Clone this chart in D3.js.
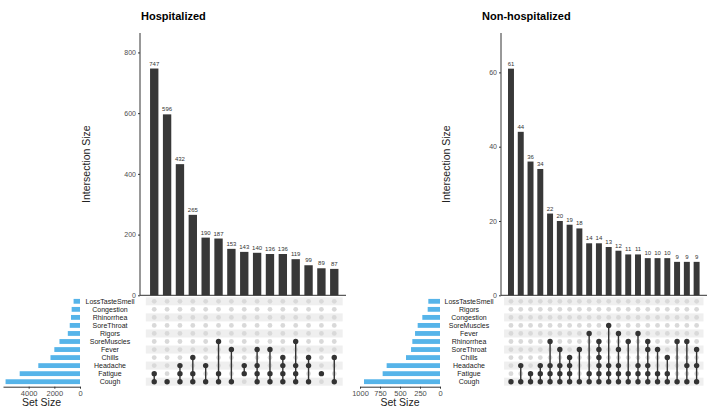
<!DOCTYPE html>
<html>
<head>
<meta charset="utf-8">
<script src="https://cdn.jsdelivr.net/npm/d3@7"></script>
<style>
  body { margin: 0; background: #fff; }
  svg { display: block; font-family: Arial, "Liberation Sans", sans-serif; }
</style>
</head>
<body>
<svg id="chart" width="709" height="408"></svg>
<script>
// ---- Hospitalized ----
const hospSets = ["LossTasteSmell", "Congestion", "Rhinorrhea", "SoreThroat", "Rigors",
  "SoreMuscles", "Fever", "Chills", "Headache", "Fatigue", "Cough"];
const hospSetSizes = [500, 650, 700, 800, 950, 1600, 2000, 2300, 3250, 4700, 5800];
const hospCounts = [747, 596, 432, 265, 190, 187, 153, 143, 140, 136, 136, 119, 99, 89, 87];
const hospMembers = [
  ["Fatigue", "Cough"],
  ["Cough"],
  ["Headache", "Fatigue", "Cough"],
  ["Chills", "Fatigue", "Cough"],
  ["Headache", "Cough"],
  ["SoreMuscles", "Fatigue", "Cough"],
  ["Fever", "Cough"],
  ["Headache", "Fatigue"],
  ["Fever", "Headache", "Fatigue", "Cough"],
  ["Fever", "Fatigue", "Cough"],
  ["Chills", "Headache", "Fatigue", "Cough"],
  ["SoreMuscles", "Headache", "Fatigue", "Cough"],
  ["Chills", "Headache", "Cough"],
  ["Fatigue"],
  ["Chills", "Cough"]
];
const hospYTicks = [0, 200, 400, 600, 800];
const hospSizeTicks = [0, 2000, 4000];

// ---- Non-hospitalized ----
const nonSets = ["LossTasteSmell", "Rigors", "Congestion", "SoreMuscles", "Fever",
  "Rhinorrhea", "SoreThroat", "Chills", "Headache", "Fatigue", "Cough"];
const nonSetSizes = [146, 154, 221, 279, 312, 346, 362, 425, 667, 717, 950];
const nonCounts = [61, 44, 36, 34, 22, 20, 19, 18, 14, 14, 13, 12, 11, 11, 10, 10, 10, 9, 9, 9];
const nonMembers = [
  ["Cough"],
  ["Headache", "Cough"],
  ["Fatigue", "Cough"],
  ["Headache", "Fatigue", "Cough"],
  ["Rhinorrhea", "Headache", "Fatigue", "Cough"],
  ["SoreThroat", "Headache", "Fatigue", "Cough"],
  ["Chills", "Headache", "Fatigue", "Cough"],
  ["SoreThroat", "Cough"],
  ["Fever", "Fatigue", "Cough"],
  ["Rhinorrhea", "SoreThroat", "Chills", "Headache", "Fatigue", "Cough"],
  ["SoreMuscles", "Headache", "Fatigue", "Cough"],
  ["Fever", "SoreThroat", "Headache", "Fatigue", "Cough"],
  ["Rhinorrhea", "Fatigue", "Cough"],
  ["Fever", "Headache", "Fatigue", "Cough"],
  ["Rhinorrhea", "SoreThroat", "Headache", "Fatigue", "Cough"],
  ["SoreThroat", "Fatigue", "Cough"],
  ["Chills", "Fatigue", "Cough"],
  ["Rhinorrhea", "Cough"],
  ["Rhinorrhea", "Headache", "Cough"],
  ["SoreThroat", "Headache", "Cough"]
];
const nonYTicks = [0, 20, 40, 60];
const nonSizeTicks = [0, 250, 500, 750, 1000];

const svg = d3.select("#chart");
const barColor = "#383838";
const tickColor = "#4d4d4d";
const fontFam = "Arial, 'Liberation Sans', sans-serif";

function drawUpset(p) {
  const g = svg.append("g");

  // echelles
  const x = d3.scaleBand()
    .domain(d3.range(p.counts.length))
    .range([p.colStart, p.colEnd])
    .paddingInner(p.pad)
    .paddingOuter(p.pad / 2);
  const y = d3.scaleLinear().domain([0, p.yMax]).range([p.base, p.top]);
  const row = d3.scaleBand().domain(p.sets).range([p.rowTop, p.rowBottom]);
  const sx = d3.scaleLinear().domain([0, p.sizeMax]).range([p.sizeZero, p.sizeLeft]);

  // titre
  svg.append("text")
    .attr("x", p.titleX).attr("y", 20)
    .style("font-size", "11px").style("font-weight", "bold")
    .text(p.title);

  // barres d'intersection
  g.selectAll(".bar").data(p.counts).join("rect")
    .attr("x", (d, i) => x(i))
    .attr("y", d => y(d))
    .attr("width", x.bandwidth())
    .attr("height", d => y(0) - y(d))
    .attr("fill", barColor);

  g.selectAll(".val").data(p.counts).join("text")
    .attr("x", (d, i) => x(i) + x.bandwidth() / 2)
    .attr("y", d => y(d) - 3)
    .attr("text-anchor", "middle")
    .style("font-size", "6px").style("fill", "#333")
    .text(d => d);

  // axe y
  const ya = g.append("g")
    .attr("transform", `translate(${p.axisX},0)`)
    .call(d3.axisLeft(y).tickValues(p.yTicks).tickSize(2).tickPadding(2).tickSizeOuter(0));
  ya.select(".domain").attr("d", `M0,${p.top}V${p.base}`).attr("stroke", "#333");
  ya.selectAll("line").attr("stroke", "#333");
  ya.selectAll("text").style("font-size", "7px").style("fill", tickColor).style("font-family", fontFam);

  g.append("line")
    .attr("x1", p.axisX).attr("x2", p.baseEnd)
    .attr("y1", y(0)).attr("y2", y(0))
    .attr("stroke", "#333");

  g.append("text")
    .attr("transform", `translate(${p.yTitleX},${(p.top + p.base) / 2}) rotate(-90)`)
    .attr("text-anchor", "middle")
    .style("font-size", "10.5px").style("fill", "#222")
    .text("Intersection Size");

  // bandes de la matrice
  g.selectAll(".shade").data(p.sets.filter((s, i) => i % 2 === 0)).join("rect")
    .attr("x", p.colStart - 2)
    .attr("y", d => row(d))
    .attr("width", p.colEnd - p.colStart + 4)
    .attr("height", row.bandwidth())
    .attr("fill", "#efefef");

  const cells = [];
  p.counts.forEach((c, i) => p.sets.forEach(s => cells.push({ i, s, on: p.members[i].includes(s) })));
  g.selectAll(".dot").data(cells.filter(d => !d.on)).join("circle")
    .attr("cx", d => x(d.i) + x.bandwidth() / 2)
    .attr("cy", d => row(d.s) + row.bandwidth() / 2)
    .attr("r", 2.4)
    .attr("fill", "#d9d9d9");

  g.selectAll(".link").data(p.members).join("line")
    .attr("x1", (d, i) => x(i) + x.bandwidth() / 2)
    .attr("x2", (d, i) => x(i) + x.bandwidth() / 2)
    .attr("y1", d => d3.min(d, s => row(s)) + row.bandwidth() / 2)
    .attr("y2", d => d3.max(d, s => row(s)) + row.bandwidth() / 2)
    .attr("stroke", "#333").attr("stroke-width", 1.4);

  g.selectAll(".on").data(cells.filter(d => d.on)).join("circle")
    .attr("cx", d => x(d.i) + x.bandwidth() / 2)
    .attr("cy", d => row(d.s) + row.bandwidth() / 2)
    .attr("r", 2.7)
    .attr("fill", "#333");

  // noms des ensembles
  g.selectAll(".setname").data(p.sets).join("text")
    .attr("x", p.nameX)
    .attr("y", d => row(d) + row.bandwidth() / 2 + 2.5)
    .attr("text-anchor", "middle")
    .style("font-size", "7px").style("fill", "#222")
    .text(d => d);

  // taille des ensembles
  g.selectAll(".setbar").data(p.sets).join("rect")
    .attr("x", (d, i) => sx(p.sizes[i]))
    .attr("y", d => row(d) + row.bandwidth() * 0.2)
    .attr("width", (d, i) => sx(0) - sx(p.sizes[i]))
    .attr("height", row.bandwidth() * 0.6)
    .attr("fill", "#56B4E9");

  const sa = g.append("g")
    .attr("transform", `translate(0,${p.rowBottom + 1})`)
    .call(d3.axisBottom(sx).tickValues(p.sizeTicks).tickFormat(d3.format("d"))
      .tickSize(2).tickPadding(1.5).tickSizeOuter(0));
  sa.select(".domain").attr("stroke", "#333");
  sa.selectAll("line").attr("stroke", "#333");
  sa.selectAll("text").style("font-size", "7.5px").style("fill", tickColor).style("font-family", fontFam);

  g.append("text")
    .attr("x", (p.sizeZero + p.sizeLeft) / 2)
    .attr("y", 406)
    .attr("text-anchor", "middle")
    .style("font-size", "10.5px").style("fill", "#222")
    .text("Set Size");
}

drawUpset({
  title: "Hospitalized", titleX: 141,
  sets: hospSets, sizes: hospSetSizes, counts: hospCounts, members: hospMembers,
  yMax: 864, yTicks: hospYTicks, sizeMax: 6000, sizeTicks: hospSizeTicks,
  colStart: 147.8, colEnd: 340.7, pad: 0.35,
  base: 295.3, top: 33, axisX: 140, baseEnd: 346, yTitleX: 90,
  rowTop: 297.3, rowBottom: 385.7, nameX: 110,
  sizeZero: 80, sizeLeft: 3
});

drawUpset({
  title: "Non-hospitalized", titleX: 482,
  sets: nonSets, sizes: nonSetSizes, counts: nonCounts, members: nonMembers,
  yMax: 70.6, yTicks: nonYTicks, sizeMax: 1000, sizeTicks: nonSizeTicks,
  colStart: 506.1, colEnd: 701.5, pad: 0.39,
  base: 295.3, top: 33, axisX: 501, baseEnd: 707, yTitleX: 450,
  rowTop: 297.3, rowBottom: 385.7, nameX: 469,
  sizeZero: 440, sizeLeft: 360
});
</script>
</body>
</html>
